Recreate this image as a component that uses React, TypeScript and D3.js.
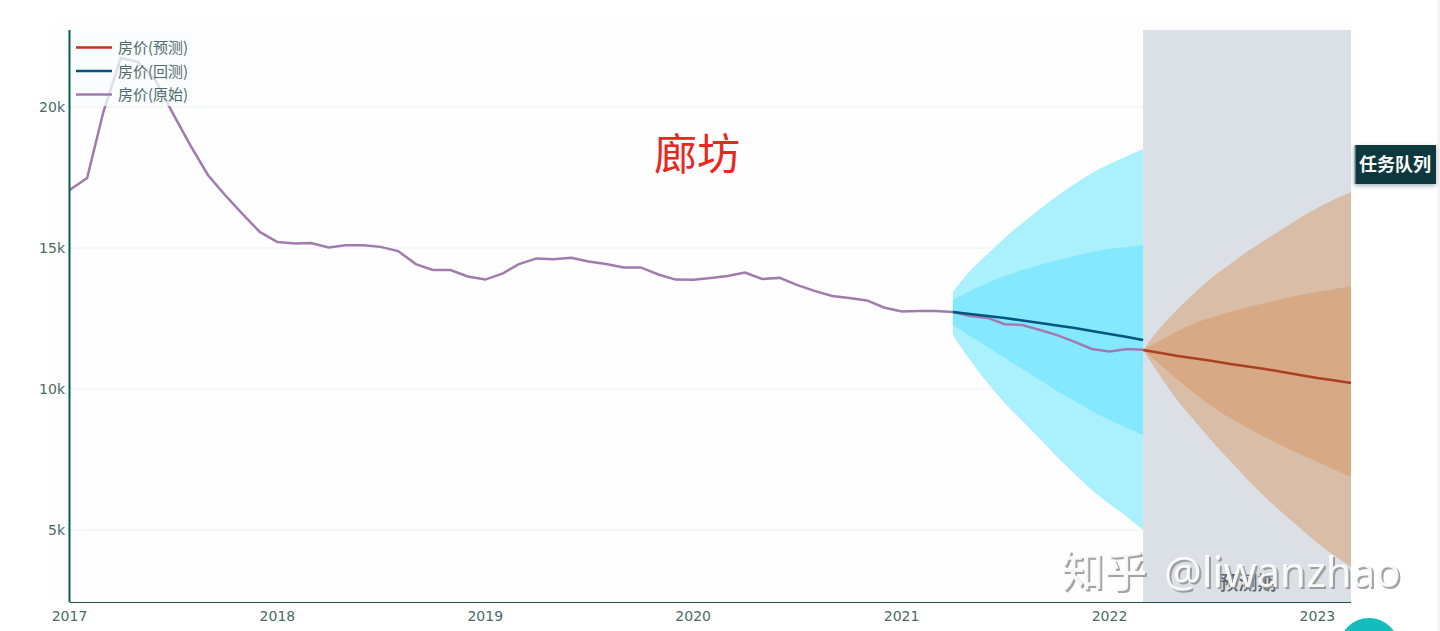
import React from 'react'
import * as d3 from 'd3'

const width = 1440
const height = 631

// monthly values
const originalStart = new Date(2017, 0, 1)
const originalValues = [
  17057, 17480, 19790, 21740, 21600, 20950, 19790, 18650, 17590, 16880, 16200, 15570,
  15210, 15160, 15180, 15020, 15100, 15100, 15040, 14890, 14430, 14220, 14220, 13990,
  13880, 14100, 14430, 14630, 14600, 14650, 14520, 14430, 14310, 14310, 14060, 13880,
  13870, 13940, 14010, 14130, 13900, 13940, 13690, 13480, 13300, 13230, 13140, 12890,
  12750, 12770, 12770, 12730, 12590, 12520, 12300, 12270, 12090, 11910, 11670, 11420,
  11330, 11420, 11390,
]

const backtestStart = new Date(2021, 3, 1)
const backtestValues = [12730, 12660, 12589, 12518, 12429, 12340, 12252, 12163, 12057, 11950, 11844, 11738]
const backtestUpper95 = [13440, 14184, 14787, 15354, 15886, 16383, 16844, 17269, 17659, 17979, 18262, 18511]
const backtestUpper80 = [13156, 13475, 13759, 14007, 14220, 14397, 14574, 14716, 14858, 14965, 15035, 15106]
const backtestLower80 = [12270, 11879, 11490, 11099, 10709, 10319, 9929, 9575, 9220, 8901, 8617, 8369]
const backtestLower95 = [11915, 11028, 10213, 9503, 8865, 8227, 7588, 6986, 6419, 5922, 5461, 5000]

const forecastStart = new Date(2022, 2, 1)
const forecastValues = [11383, 11276, 11170, 11082, 10993, 10887, 10798, 10709, 10603, 10497, 10390, 10301, 10213]
const forecastUpper95 = [11383, 12199, 12837, 13440, 13971, 14433, 14893, 15284, 15674, 16064, 16418, 16737, 16986]
const forecastUpper80 = [11383, 11738, 12057, 12341, 12553, 12730, 12908, 13050, 13191, 13333, 13440, 13546, 13652]
const forecastLower80 = [11383, 10851, 10319, 9823, 9362, 8966, 8617, 8298, 7979, 7695, 7412, 7128, 6880]
const forecastLower95 = [11383, 10425, 9574, 8830, 8121, 7447, 6773, 6170, 5603, 5071, 4539, 4078, 3688]

const yTicks = [5000, 10000, 15000, 20000]
const legendItems = [
  { label: '房价(预测)', color: '#c8321e' },
  { label: '房价(回测)', color: '#00557f' },
  { label: '房价(原始)', color: '#a17bb0' },
]

const axisFont = '"DejaVu Sans", sans-serif'
const cjkFont = '"Noto Sans CJK SC", sans-serif'

const x = d3.scaleTime()
  .domain([originalStart, new Date(2023, 2, 1)])
  .range([69.5, 1351])
const y = d3.scaleLinear().domain([2447, 22730]).range([602, 30])

type Pt = { date: Date; value: number }
const toSeries = (start: Date, values: number[]): Pt[] =>
  values.map((value, i) => ({ date: d3.timeMonth.offset(start, i), value }))

const linePath = d3.line<Pt>().x(d => x(d.date)).y(d => y(d.value))

function bandPath(start: Date, upper: number[], lower: number[]) {
  const area = d3.area<number>()
    .x((_, i) => x(d3.timeMonth.offset(start, i)))
    .y0((_, i) => y(lower[i]))
    .y1(d => y(d))
    .curve(d3.curveMonotoneX)
  return area(upper) ?? ''
}

export default function App() {
  const xTicks = x.ticks(d3.timeYear.every(1)!)
  const formatY = d3.format('~s')
  const formatX = d3.timeFormat('%Y')
  const shadeLeft = x(forecastStart)

  return (
    <svg
      width={width}
      height={height}
      style={{ position: 'absolute', left: 0, top: 0, display: 'block', background: '#fff' }}
    >
      <defs>
        <filter id="tag-shadow" x="-20%" y="-20%" width="140%" height="150%">
          <feDropShadow dx={0} dy={2} stdDeviation={2} floodColor="#11393c" floodOpacity={0.35} />
        </filter>
      </defs>

      <rect x={50} y={20} width={1301} height={582} fill="#fefefe" />
      <rect x={1437} y={0} width={3} height={height} fill="#f3f4f5" />

      {/* grid */}
      {yTicks.map(t => (
        <line key={t} x1={69.5} x2={1351} y1={y(t)} y2={y(t)} stroke="#eceff1" strokeWidth={1} />
      ))}

      {/* forecast period shade */}
      <rect x={shadeLeft} y={30} width={1351 - shadeLeft} height={572} fill="#d8dde5" opacity={0.92} />
      <text x={1248} y={590} textAnchor="middle" fontFamily={cjkFont} fontSize={19} fontWeight={500} fill="#5a6468">预测期</text>

      {/* confidence bands */}
      <path d={bandPath(backtestStart, backtestUpper95, backtestLower95)} fill="#aaf0fd" />
      <path d={bandPath(backtestStart, backtestUpper80, backtestLower80)} fill="#84e8fe" />
      <path d={bandPath(forecastStart, forecastUpper95, forecastLower95)} fill="#d9bda6" />
      <path d={bandPath(forecastStart, forecastUpper80, forecastLower80)} fill="#d7a984" />

      {/* lines */}
      <path d={linePath(toSeries(originalStart, originalValues)) ?? ''} fill="none" stroke="#a17bb0" strokeWidth={2.5} />
      <path d={linePath(toSeries(backtestStart, backtestValues)) ?? ''} fill="none" stroke="#00557f" strokeWidth={2.5} />
      <path d={linePath(toSeries(forecastStart, forecastValues)) ?? ''} fill="none" stroke="#ab3f22" strokeWidth={2.5} />

      {/* axes */}
      <line x1={69.5} x2={69.5} y1={30} y2={602} stroke="#0b5a55" strokeWidth={2} />
      <line x1={69.5} x2={1351} y1={602.5} y2={602.5} stroke="#24504f" strokeWidth={1} />
      {yTicks.map(t => (
        <text key={t} x={65} y={y(t) + 5} textAnchor="end" fontFamily={axisFont} fontSize={14} fill="#4a6a68">
          {formatY(t)}
        </text>
      ))}
      {xTicks.map(t => (
        <text key={t.getTime()} x={x(t)} y={621} textAnchor="middle" fontFamily={axisFont} fontSize={14} fill="#4a6a68">
          {formatX(t)}
        </text>
      ))}

      {/* legend */}
      <rect x={72} y={32} width={122} height={74} fill="#f7fcfe" opacity={0.75} />
      {legendItems.map((item, i) => (
        <g key={item.label} transform={`translate(0,${47.5 + i * 23.5})`}>
          <line x1={76} x2={112} y1={0} y2={0} stroke={item.color} strokeWidth={2.5} />
          <text x={118} y={5.5} fontFamily={cjkFont} fontSize={15} fill="#4f6c6b">{item.label}</text>
        </g>
      ))}

      <text x={697} y={170} textAnchor="middle" fontFamily={cjkFont} fontSize={43} fill="#e8281e">廊坊</text>

      {/* page widgets over the chart */}
      <rect x={1354} y={145} width={82} height={39} fill="#11393c" filter="url(#tag-shadow)" />
      <rect x={1354} y={145} width={1.5} height={39} fill="#9fb3b3" />
      <text x={1395} y={171} textAnchor="middle" fontFamily={cjkFont} fontSize={18} fontWeight={700} fill="#fff">任务队列</text>
      <circle cx={1369} cy={648} r={30} fill="#13bdbd" />

      {/* watermark */}
      <g fontFamily={cjkFont} fontSize={43} fontWeight={500}>
        <text x={1063} y={589} fill="#8d8d8d" opacity={0.8}>知乎</text>
        <text x={1061} y={587} fill="#fff" opacity={0.9}>知乎</text>
      </g>
      <g fontFamily='"Noto Sans", sans-serif' fontSize={42}>
        <text x={1166} y={589} fill="#8d8d8d" opacity={0.8}>@liwanzhao</text>
        <text x={1164} y={587} fill="#fff" opacity={0.9}>@liwanzhao</text>
      </g>
    </svg>
  )
}
